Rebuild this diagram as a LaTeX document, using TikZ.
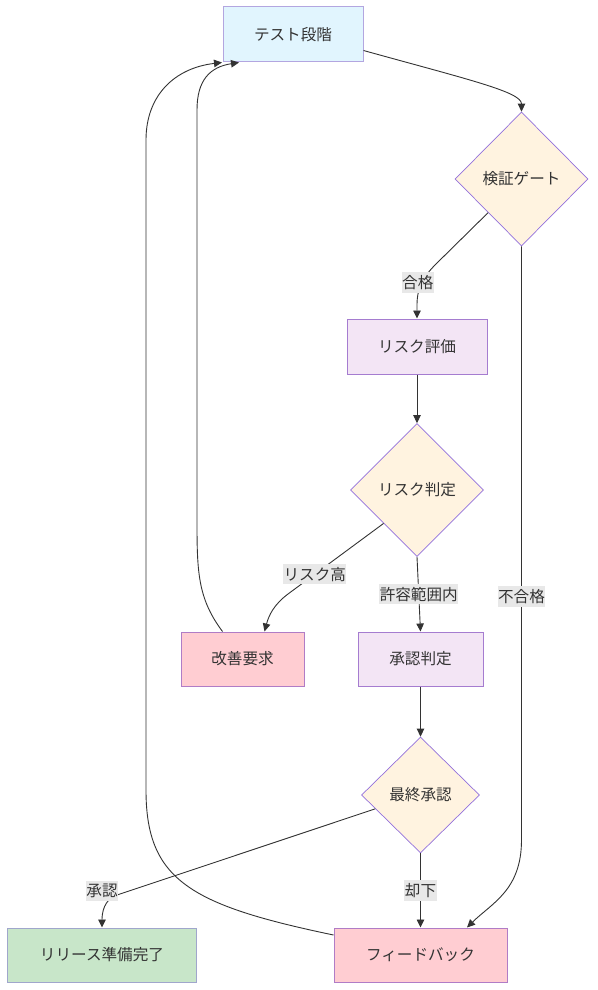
\documentclass[tikz,border=0pt]{standalone}
\usepackage{fontspec}
\setmainfont{Noto Sans CJK JP}
\usetikzlibrary{positioning,shapes.geometric,arrows.meta}
\definecolor{ink}{HTML}{333333}
\definecolor{testfill}{HTML}{E1F5FE}
\definecolor{testline}{HTML}{B3A6E0}
\definecolor{gatefill}{HTML}{FFF3E0}
\definecolor{gateline}{HTML}{9370DB}
\definecolor{evalfill}{HTML}{F3E5F5}
\definecolor{evalline}{HTML}{A57CD0}
\definecolor{ngfill}{HTML}{FFCDD2}
\definecolor{ngline}{HTML}{B07CC6}
\definecolor{okfill}{HTML}{C8E6C9}
\definecolor{okline}{HTML}{A0A6CC}
\definecolor{lblfill}{HTML}{E8E8E8}
\begin{document}
\begin{tikzpicture}[x=1pt, y=-1pt,
        every node/.style={font=\fontsize{15.6}{18}\selectfont, text=ink},
        box/.style={rectangle, draw, line width=1pt, minimum height=54pt},
        decision/.style={diamond, draw=gateline, fill=gatefill, line width=0.7pt, inner sep=0pt},
        lbl/.style={fill=lblfill, inner xsep=0.5pt, inner ysep=3pt},
        arr/.style={draw=ink, line width=0.9pt, -{Triangle[length=8pt,width=7.5pt]}}]
        \useasboundingbox (0,0) rectangle (597,990);

        % Test
        \node[box, fill=testfill, draw=testline, minimum width=140pt, minimum height=55pt] (test) at (293,34.5) {テスト段階};

        % Gate
        \node[decision, minimum width=133pt, minimum height=134pt, node distance=228.5pt, right of=test, yshift=-144.5pt] (gate) {検証ゲート};

        % Risk evaluation
        \node[box, fill=evalfill, draw=evalline, minimum width=140pt, minimum height=55pt, node distance=167.5pt, below of=gate, xshift=-104.5pt] (riskeval) {リスク評価};

        % Risk decision
        \node[decision, minimum width=133pt, minimum height=133pt, node distance=143.5pt, below of=riskeval] (riskdec) {リスク判定};

        % Improvement
        \node[box, fill=ngfill, draw=ngline, minimum width=123pt, node distance=169pt, below of=riskdec, xshift=-174.5pt] (improve) {改善要求};

        % Approval
        \node[box, fill=evalfill, draw=evalline, minimum width=125pt, node distance=169pt, below of=riskdec, xshift=3.5pt] (approve) {承認判定};

        % Final
        \node[decision, minimum width=118pt, minimum height=116pt, node distance=136pt, below of=approve] (final) {最終承認};

        % Release
        \node[box, fill=okfill, draw=okline, minimum width=189pt, node distance=160pt, below of=final, xshift=-318.5pt] (release) {リリース準備完了};

        % Feedback
        \node[box, fill=ngfill, draw=ngline, minimum width=173pt, node distance=160pt, below of=final] (feedback) {フィードバック};

        % Connections
        \draw[arr] ([yshift=-16pt]test.east) .. controls (470,80) and (521.5,92) .. (gate.north);
        \draw[arr] (gate.south west) -- (436,264) to[out=-135,in=90] node[lbl, xshift=-4pt]{合格} (417,305) -- (riskeval.north);
        \draw[arr] (gate.south) -- node[lbl, pos=0.59]{不合格} (521.5,840) .. controls (521.5,890) and (492,903) .. ([xshift=46.5pt]feedback.north);
        \draw[arr] (riskeval.south) -- (riskdec.north);
        \draw[arr] (riskdec.south west) -- node[lbl, pos=0.72]{リスク高} (288,594) to[out=-143,in=75] ([xshift=22pt]improve.north);
        \draw[arr] (riskdec.south) -- node[lbl]{許容範囲内} (approve.north);
        \draw[arr] ([xshift=-20pt]improve.north) .. controls (199,600) and (197,575) .. (197,525) -- (197,110) .. controls (197,80) and (210,67) .. ([xshift=-54pt]test.south);
        \draw[arr] (approve.south) -- (final.north);
        \draw[arr] (final.197) -- (117,895) node[lbl, xshift=-15pt, yshift=4pt]{承認} to[out=-162,in=90] (release.north);
        \draw[arr] (final.south) -- node[lbl]{却下} (feedback.north);
        \draw[arr] ([yshift=20pt]feedback.west) .. controls (190,905) and (146,880) .. (146,790) -- (146,140) .. controls (146,95) and (175,68) .. ([xshift=-71pt]test.south);
    \end{tikzpicture}
\end{document}
